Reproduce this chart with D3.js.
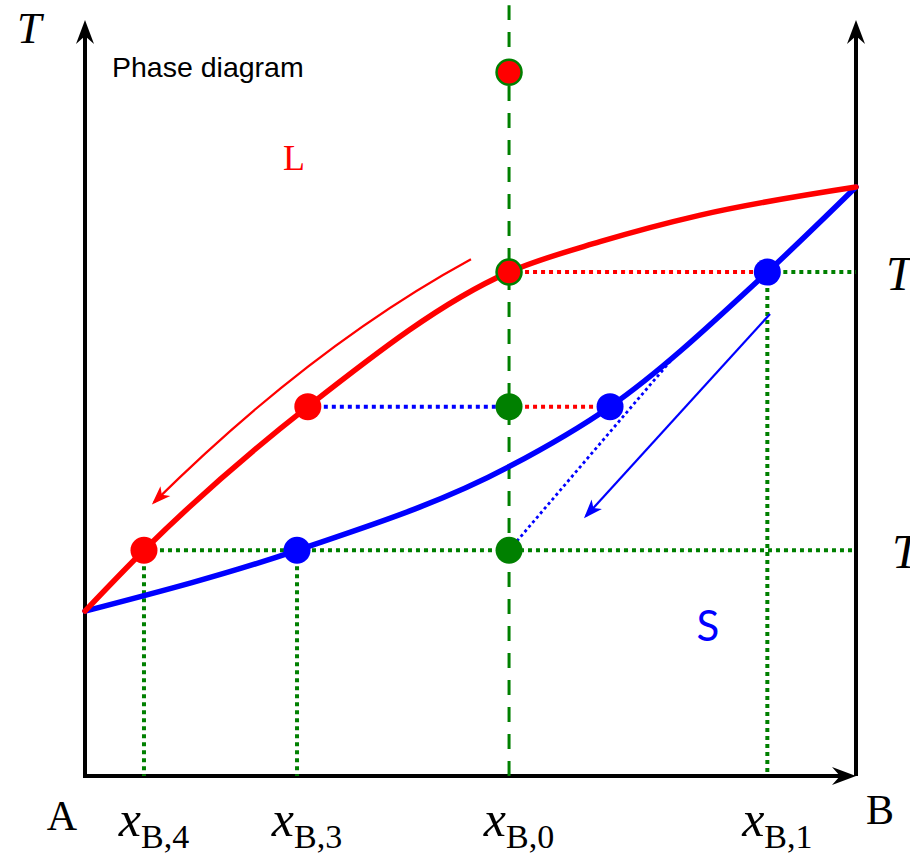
<!DOCTYPE html>
<html>
<head>
<meta charset="utf-8">
<script src="https://cdn.jsdelivr.net/npm/d3@7"></script>
<style>
  html, body { margin: 0; padding: 0; background: #fff; }
  svg { display: block; }
</style>
</head>
<body>
<script>
// Binary isomorphous system A–B: liquidus (red) and solidus (blue)
// Composition is mole fraction of B, temperature in arbitrary units.
const liquidusX = [0, 0.0765, 0.289, 0.55, 0.668, 0.798, 1.0];
const liquidusT = [21.7, 29.7, 48.6, 66.3, 70.3, 73.8, 77.5];
const solidusX  = [0, 0.275, 0.55, 0.681, 0.885, 1.0];
const solidusT  = [21.7, 29.7, 40.7, 48.6, 66.3, 77.5];

// Characteristic temperatures and compositions
const tempNames  = ["T0", "T1", "T2", "T3"];
const tempValues = [92.6, 66.3, 48.6, 29.7];
const compNames  = ["xB4", "xB3", "xB2", "xB0", "xS2", "xB1"];
const compValues = [0.0765, 0.275, 0.289, 0.55, 0.681, 0.885];

// Tick labels along the composition axis
const tickKeys   = ["xB4", "xB3", "xB0", "xB1"];
const tickSubs   = ["B,4", "B,3", "B,0", "B,1"];

// Tie-line end of the cooling path drawn from the T3 point
const pathEndX = 0.772, pathEndT = 56.1;

// Cooling-direction arrows: [x, T] start, control, end
const liqArrow = [[0.5006, 68.0], [0.2944, 56.6], [0.0895, 36.0]];
const solArrow = [[0.8885, 60.8], [0.6498, 34.2]];

const W = 910, H = 860;
const x = d3.scaleLinear().domain([0, 1]).range([85, 856]);
const y = d3.scaleLinear().domain([0, 100]).range([776, 16]);

const comp = k => compValues[compNames.indexOf(k)];
const temp = k => tempValues[tempNames.indexOf(k)];

const RED = "#ff0000", BLUE = "#0000ff", GREEN = "#008000", BLACK = "#000";

const svg = d3.select("body").append("svg")
  .attr("width", W).attr("height", H)
  .attr("viewBox", `0 0 ${W} ${H}`);

const defs = svg.append("defs");
function marker(id, color, len, half, notch) {
  defs.append("marker")
    .attr("id", id)
    .attr("markerUnits", "userSpaceOnUse")
    .attr("viewBox", `${-len - 2} ${-half - 2} ${len + 4} ${2 * half + 4}`)
    .attr("markerWidth", len + 4).attr("markerHeight", 2 * half + 4)
    .attr("refX", -notch).attr("refY", 0)
    .attr("orient", "auto")
    .append("path")
    .attr("d", `M0,0 L${-len},${-half} L${-len + notch + 2},0 L${-len},${half} Z`)
    .attr("fill", color);
}
marker("axisHead", BLACK, 24, 9, 6);
marker("redHead", RED, 19, 7, 3);
marker("blueHead", BLUE, 19, 7, 3);

// ----- Axes -----
const axes = svg.append("g").attr("stroke", BLACK).attr("stroke-width", 4).attr("fill", "none");
axes.append("path")
  .attr("d", `M${x(0)},${y(0)} L${x(0)},${y(100) + 10}`)
  .attr("marker-end", "url(#axisHead)");
axes.append("path")
  .attr("d", `M${x(1)},${y(0)} L${x(1)},${y(100) + 10}`)
  .attr("marker-end", "url(#axisHead)");
axes.append("path")
  .attr("d", `M${x(0) - 2},${y(0)} L${x(1) - 6},${y(0)}`)
  .attr("marker-end", "url(#axisHead)");

// ----- Green dashed isopleth at x_B,0 -----
svg.append("line")
  .attr("x1", x(comp("xB0"))).attr("x2", x(comp("xB0")))
  .attr("y1", y(0)).attr("y2", y(101.4))
  .attr("stroke", GREEN).attr("stroke-width", 3)
  .attr("stroke-dasharray", "15,12");

// ----- Dotted guide lines -----
function dotted(x1, t1, x2, t2, color, w = 4, dash = "4,4") {
  svg.append("line")
    .attr("x1", x(x1)).attr("y1", y(t1))
    .attr("x2", x(x2)).attr("y2", y(t2))
    .attr("stroke", color).attr("stroke-width", w)
    .attr("stroke-dasharray", dash);
}
// verticals down to the composition axis
dotted(comp("xB4"), temp("T3"), comp("xB4"), 0, GREEN);
dotted(comp("xB3"), temp("T3"), comp("xB3"), 0, GREEN);
dotted(comp("xB1"), temp("T1"), comp("xB1"), 0, GREEN);
// horizontals
dotted(comp("xB4"), temp("T3"), 1, temp("T3"), GREEN);
dotted(comp("xB1"), temp("T1"), 1, temp("T1"), GREEN);
dotted(comp("xB0"), temp("T1"), comp("xB1"), temp("T1"), RED);
dotted(comp("xB2"), temp("T2"), comp("xB0"), temp("T2"), BLUE);
dotted(comp("xB0"), temp("T2"), comp("xS2"), temp("T2"), RED);
// solid-composition path from T3 up to the solidus
dotted(comp("xB0"), temp("T3"), pathEndX, pathEndT, BLUE, 2.8, "3,3");

// ----- Liquidus & solidus -----
const curve = d3.line().x(d => x(d[0])).y(d => y(d[1])).curve(d3.curveMonotoneX);
svg.append("path")
  .datum(solidusX.map((v, i) => [v, solidusT[i]]))
  .attr("d", curve).attr("fill", "none")
  .attr("stroke", BLUE).attr("stroke-width", 5.5).attr("stroke-linecap", "round");
svg.append("path")
  .datum(liquidusX.map((v, i) => [v, liquidusT[i]]))
  .attr("d", curve).attr("fill", "none")
  .attr("stroke", RED).attr("stroke-width", 5.5).attr("stroke-linecap", "round");

// ----- Cooling-direction arrows -----
const lp = d3.path();
lp.moveTo(x(liqArrow[0][0]), y(liqArrow[0][1]));
lp.quadraticCurveTo(x(liqArrow[1][0]), y(liqArrow[1][1]), x(liqArrow[2][0]), y(liqArrow[2][1]));
svg.append("path").attr("d", lp.toString())
  .attr("fill", "none").attr("stroke", RED).attr("stroke-width", 2.2)
  .attr("marker-end", "url(#redHead)");
svg.append("line")
  .attr("x1", x(solArrow[0][0])).attr("y1", y(solArrow[0][1]))
  .attr("x2", x(solArrow[1][0])).attr("y2", y(solArrow[1][1]))
  .attr("stroke", BLUE).attr("stroke-width", 2.2)
  .attr("marker-end", "url(#blueHead)");

// ----- State points -----
const points = [
  { c: "xB0", t: "T0", fill: RED,   ring: true },
  { c: "xB0", t: "T1", fill: RED,   ring: true },
  { c: "xB1", t: "T1", fill: BLUE,  ring: false },
  { c: "xB2", t: "T2", fill: RED,   ring: false },
  { c: "xB0", t: "T2", fill: GREEN, ring: false },
  { c: "xS2", t: "T2", fill: BLUE,  ring: false },
  { c: "xB4", t: "T3", fill: RED,   ring: false },
  { c: "xB3", t: "T3", fill: BLUE,  ring: false },
  { c: "xB0", t: "T3", fill: GREEN, ring: false }
];
svg.append("g").selectAll("circle").data(points).join("circle")
  .attr("cx", d => x(comp(d.c))).attr("cy", d => y(temp(d.t)))
  .attr("r", d => d.ring ? 12.5 : 13.5)
  .attr("fill", d => d.fill)
  .attr("stroke", d => d.ring ? GREEN : "none")
  .attr("stroke-width", 2.5);

// ----- Text -----
const serif = "'Liberation Serif', 'DejaVu Serif', serif";
svg.append("text").attr("x", 17).attr("y", 43)
  .attr("font-family", serif).attr("font-style", "italic").attr("font-size", 44)
  .text("T");
svg.append("text").attr("x", 112).attr("y", 77)
  .attr("font-family", "'Liberation Sans', Arial, sans-serif").attr("font-size", 28.5)
  .text("Phase diagram");
svg.append("text").attr("x", 294).attr("y", 170).attr("text-anchor", "middle")
  .attr("font-family", serif).attr("font-size", 36).attr("fill", RED)
  .text("L");
svg.append("text").attr("x", 708).attr("y", 641).attr("text-anchor", "middle")
  .attr("font-family", "Lato, 'Liberation Sans', sans-serif").attr("font-size", 42).attr("fill", BLUE)
  .text("S");
// temperature labels at the right edge
svg.append("text").attr("x", 886).attr("y", y(temp("T1")) + 18)
  .attr("font-family", serif).attr("font-style", "italic").attr("font-size", 48)
  .text("T");
svg.append("text").attr("x", 892).attr("y", y(temp("T3")) + 18)
  .attr("font-family", serif).attr("font-style", "italic").attr("font-size", 48)
  .text("T");
// component labels
svg.append("text").attr("x", 62).attr("y", 830).attr("text-anchor", "middle")
  .attr("font-family", serif).attr("font-size", 42).text("A");
svg.append("text").attr("x", 880).attr("y", 824).attr("text-anchor", "middle")
  .attr("font-family", serif).attr("font-size", 42).text("B");
// composition tick labels x_B,i
const tl = svg.append("g").selectAll("text").data(tickKeys).join("text")
  .attr("x", k => x(comp(k)) + 10).attr("y", 836)
  .attr("text-anchor", "middle")
  .attr("font-family", serif);
tl.append("tspan").attr("font-style", "italic").attr("font-size", 50).text("x");
tl.append("tspan").attr("font-size", 34).attr("dy", 12).text((k, i) => tickSubs[i]);
</script>
</body>
</html>
